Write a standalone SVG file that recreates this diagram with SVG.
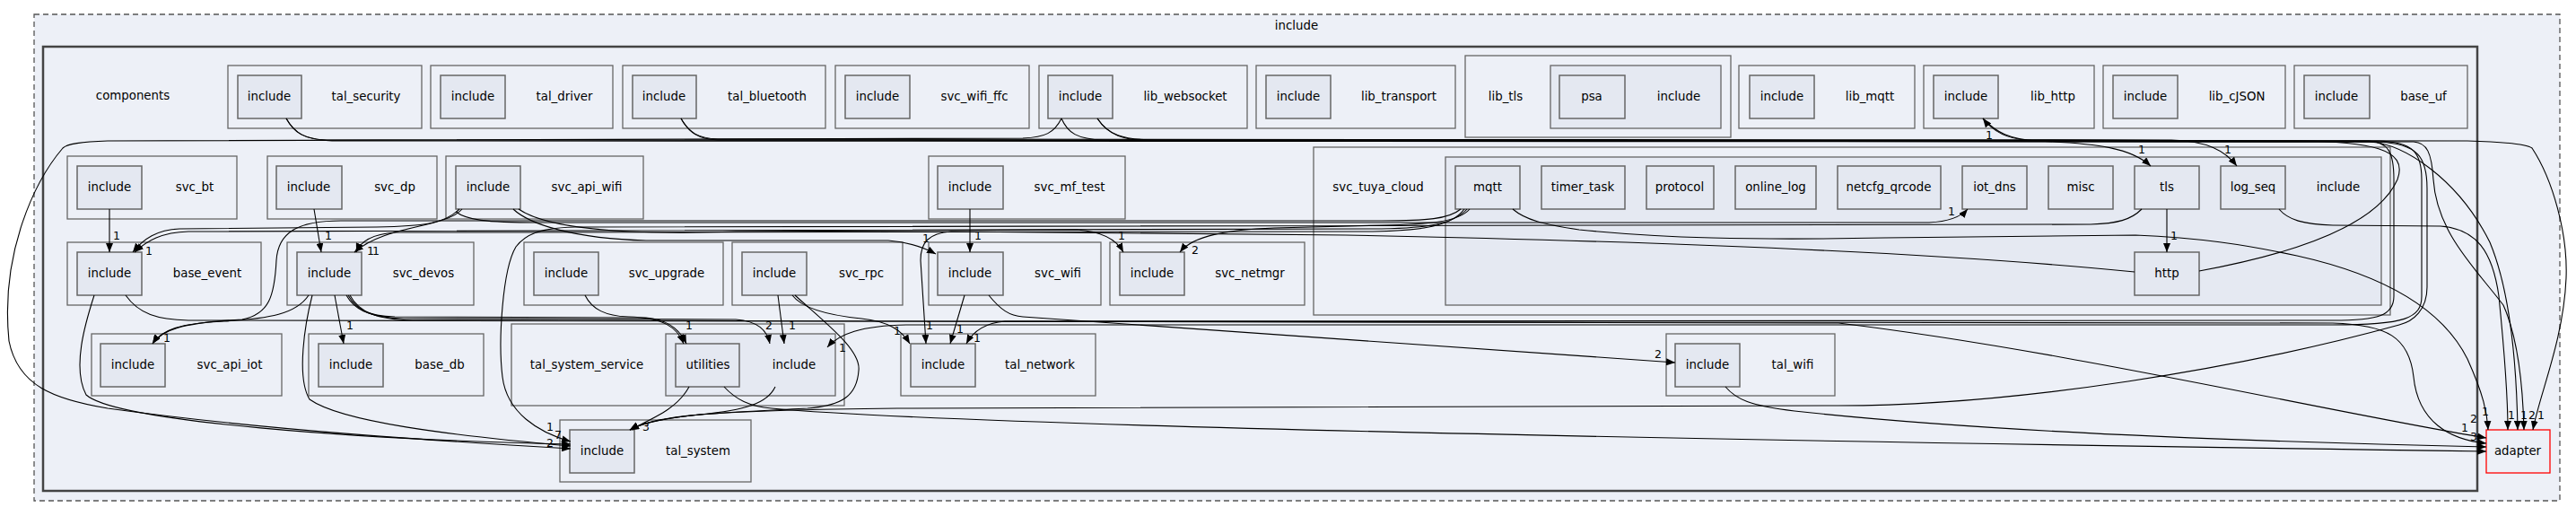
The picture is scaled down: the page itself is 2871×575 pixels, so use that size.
<svg xmlns="http://www.w3.org/2000/svg" width="2871" height="575" viewBox="0 0 2871 575">
<defs>
<style>
text{font-family:"DejaVu Sans","Liberation Sans",sans-serif;font-size:13.33px;fill:#000;text-anchor:middle}
.cl{fill:#edf0f7;stroke:#666;stroke-width:1.3}
.cl2{fill:#e5e9f2;stroke:#666;stroke-width:1.3}
.nd{fill:#e4e8f1;stroke:#666;stroke-width:1.5}
.e{fill:none;stroke:#000;stroke-width:1.1;marker-end:url(#ah)}
.el{font-size:12.5px}
</style>
<marker id="ah" markerWidth="10" markerHeight="8" refX="10" refY="4" orient="auto" markerUnits="userSpaceOnUse"><path d="M0,0L10,4L0,8z" fill="#000"/></marker>
</defs>
<rect width="2871" height="575" fill="#fff"/>
<g id="cluster-include">
<rect x="38" y="16" width="2815" height="542" fill="#edf0f7" stroke="#555" stroke-width="1.3" stroke-dasharray="6,4"/>
<text x="1445" y="33">include</text>
</g>
<g id="cluster-components">
<rect x="48" y="52" width="2713" height="495" fill="#edf0f7" stroke="#444" stroke-width="2.5"/>
<text x="148" y="111">components</text>
</g>
<g id="tal_security"><rect class="cl" x="254" y="73" width="216" height="70"/><rect class="nd" x="265" y="84" width="71" height="48"/><text x="300" y="112">include</text><text x="408" y="112">tal_security</text></g>
<g id="tal_driver"><rect class="cl" x="480" y="73" width="203" height="70"/><rect class="nd" x="491" y="84" width="72" height="48"/><text x="527" y="112">include</text><text x="629" y="112">tal_driver</text></g>
<g id="tal_bluetooth"><rect class="cl" x="694" y="73" width="226" height="70"/><rect class="nd" x="705" y="84" width="71" height="48"/><text x="740" y="112">include</text><text x="855" y="112">tal_bluetooth</text></g>
<g id="svc_wifi_ffc"><rect class="cl" x="931" y="73" width="216" height="70"/><rect class="nd" x="942" y="84" width="72" height="48"/><text x="978" y="112">include</text><text x="1086" y="112">svc_wifi_ffc</text></g>
<g id="lib_websocket"><rect class="cl" x="1158" y="73" width="232" height="70"/><rect class="nd" x="1168" y="84" width="72" height="48"/><text x="1204" y="112">include</text><text x="1321" y="112">lib_websocket</text></g>
<g id="lib_transport"><rect class="cl" x="1400" y="73" width="222" height="70"/><rect class="nd" x="1411" y="84" width="72" height="48"/><text x="1447" y="112">include</text><text x="1559" y="112">lib_transport</text></g>
<g id="lib_tls"><rect class="cl" x="1633" y="62" width="296" height="91"/><text x="1678" y="112">lib_tls</text><rect class="cl2" x="1728" y="73" width="190" height="70"/><rect class="nd" x="1738" y="84" width="73" height="48"/><text x="1774" y="112">psa</text><text x="1871" y="112">include</text></g>
<g id="lib_mqtt"><rect class="cl" x="1938" y="73" width="196" height="70"/><rect class="nd" x="1950" y="84" width="72" height="48"/><text x="1986" y="112">include</text><text x="2084" y="112">lib_mqtt</text></g>
<g id="lib_http"><rect class="cl" x="2144" y="73" width="190" height="70"/><rect class="nd" x="2155" y="84" width="72" height="48"/><text x="2191" y="112">include</text><text x="2288" y="112">lib_http</text></g>
<g id="lib_cJSON"><rect class="cl" x="2344" y="73" width="203" height="70"/><rect class="nd" x="2355" y="84" width="72" height="48"/><text x="2391" y="112">include</text><text x="2493" y="112">lib_cJSON</text></g>
<g id="base_uf"><rect class="cl" x="2557" y="73" width="193" height="70"/><rect class="nd" x="2568" y="84" width="73" height="48"/><text x="2604" y="112">include</text><text x="2701" y="112">base_uf</text></g>
<g id="svc_bt"><rect class="cl" x="75" y="174" width="189" height="70"/><rect class="nd" x="86" y="185" width="72" height="48"/><text x="122" y="213">include</text><text x="217" y="213">svc_bt</text></g>
<g id="svc_dp"><rect class="cl" x="298" y="174" width="189" height="70"/><rect class="nd" x="308" y="185" width="73" height="48"/><text x="344" y="213">include</text><text x="440" y="213">svc_dp</text></g>
<g id="svc_api_wifi"><rect class="cl" x="497" y="174" width="220" height="70"/><rect class="nd" x="508" y="185" width="72" height="48"/><text x="544" y="213">include</text><text x="654" y="213">svc_api_wifi</text></g>
<g id="svc_mf_test"><rect class="cl" x="1035" y="174" width="219" height="70"/><rect class="nd" x="1045" y="185" width="73" height="48"/><text x="1081" y="213">include</text><text x="1192" y="213">svc_mf_test</text></g>
<g id="svc_tuya_cloud"><rect class="cl" x="1464" y="164" width="1200" height="187"/><text x="1536" y="213">svc_tuya_cloud</text>
<rect class="cl2" x="1611" y="175" width="1043" height="165"/><text x="2606" y="213">include</text>
<rect class="nd" x="1622" y="185" width="72" height="48"/><text x="1658" y="213">mqtt</text>
<rect class="nd" x="1718" y="185" width="93" height="48"/><text x="1764" y="213">timer_task</text>
<rect class="nd" x="1835" y="185" width="75" height="48"/><text x="1872" y="213">protocol</text>
<rect class="nd" x="1934" y="185" width="90" height="48"/><text x="1979" y="213">online_log</text>
<rect class="nd" x="2048" y="185" width="115" height="48"/><text x="2105" y="213">netcfg_qrcode</text>
<rect class="nd" x="2187" y="185" width="72" height="48"/><text x="2223" y="213">iot_dns</text>
<rect class="nd" x="2283" y="185" width="72" height="48"/><text x="2319" y="213">misc</text>
<rect class="nd" x="2379" y="185" width="72" height="48"/><text x="2415" y="213">tls</text>
<rect class="nd" x="2475" y="185" width="72" height="48"/><text x="2511" y="213">log_seq</text>
<rect class="nd" x="2379" y="281" width="72" height="48"/><text x="2415" y="309">http</text></g>
<g id="base_event"><rect class="cl" x="75" y="270" width="216" height="70"/><rect class="nd" x="86" y="281" width="72" height="48"/><text x="122" y="309">include</text><text x="231" y="309">base_event</text></g>
<g id="svc_devos"><rect class="cl" x="320" y="270" width="208" height="70"/><rect class="nd" x="331" y="281" width="72" height="48"/><text x="367" y="309">include</text><text x="472" y="309">svc_devos</text></g>
<g id="svc_upgrade"><rect class="cl" x="584" y="270" width="222" height="70"/><rect class="nd" x="595" y="281" width="72" height="48"/><text x="631" y="309">include</text><text x="743" y="309">svc_upgrade</text></g>
<g id="svc_rpc"><rect class="cl" x="816" y="270" width="190" height="70"/><rect class="nd" x="827" y="281" width="72" height="48"/><text x="863" y="309">include</text><text x="960" y="309">svc_rpc</text></g>
<g id="svc_wifi"><rect class="cl" x="1035" y="270" width="192" height="70"/><rect class="nd" x="1045" y="281" width="73" height="48"/><text x="1081" y="309">include</text><text x="1179" y="309">svc_wifi</text></g>
<g id="svc_netmgr"><rect class="cl" x="1237" y="270" width="217" height="70"/><rect class="nd" x="1248" y="281" width="72" height="48"/><text x="1284" y="309">include</text><text x="1393" y="309">svc_netmgr</text></g>
<g id="svc_api_iot"><rect class="cl" x="102" y="372" width="212" height="69"/><rect class="nd" x="112" y="383" width="72" height="48"/><text x="148" y="411">include</text><text x="256" y="411">svc_api_iot</text></g>
<g id="base_db"><rect class="cl" x="344" y="372" width="195" height="69"/><rect class="nd" x="355" y="383" width="72" height="48"/><text x="391" y="411">include</text><text x="490" y="411">base_db</text></g>
<g id="tal_system_service"><rect class="cl" x="570" y="361" width="371" height="91"/><text x="654" y="411">tal_system_service</text><rect class="cl2" x="742" y="372" width="189" height="69"/><rect class="nd" x="753" y="383" width="71" height="48"/><text x="789" y="411">utilities</text><text x="885" y="411">include</text></g>
<g id="tal_network"><rect class="cl" x="1004" y="372" width="217" height="69"/><rect class="nd" x="1015" y="383" width="72" height="48"/><text x="1051" y="411">include</text><text x="1159" y="411">tal_network</text></g>
<g id="tal_wifi"><rect class="cl" x="1857" y="372" width="188" height="69"/><rect class="nd" x="1867" y="383" width="72" height="48"/><text x="1903" y="411">include</text><text x="1998" y="411">tal_wifi</text></g>
<g id="tal_system"><rect class="cl" x="624" y="468" width="213" height="69"/><rect class="nd" x="635" y="479" width="72" height="48"/><text x="671" y="507">include</text><text x="778" y="507">tal_system</text></g>
<g id="adapter"><rect x="2771" y="479" width="71" height="48" fill="#edf0f7" stroke="#f00" stroke-width="1.3"/><text x="2806" y="507">adapter</text></g>
<g id="connectors">
<path class="e" d="M122,233L122,281"/><text class="el" x="130" y="267">1</text>
<path class="e" d="M350,233L358,281"/><text class="el" x="366" y="267">1</text>
<path class="e" d="M515,233C495,255 430,250 395,281"/><text class="el" x="413" y="284">1</text>
<path class="e" d="M512,233C495,250 470,252 420,253L200,255C175,256 160,266 148,281"/><text class="el" x="166" y="284">1</text>
<path class="e" d="M1635,233C1620,250 1590,254 1540,255L210,258C180,259 164,268 150,281"/>
<path class="e" d="M1632,233C1618,252 1585,257 1530,258L440,259C415,261 402,268 397,281"/><text class="el" x="419" y="284">1</text>
<path class="e" d="M1638,233C1625,248 1590,250 1540,251L1420,254C1370,256 1330,262 1315,281"/><text class="el" x="1332" y="283">2</text>
<path class="e" d="M578,233C610,255 700,262 820,258L1200,256C1230,258 1245,268 1252,281"/><text class="el" x="1250" y="267">1</text>
<path class="e" d="M572,233C590,250 640,266 720,268L990,268C1015,270 1030,276 1043,283"/><text class="el" x="1032" y="270">1</text>
<path class="e" d="M1081,233L1081,281"/><text class="el" x="1090" y="267">1</text>
<path class="e" d="M508,236C520,245 540,248 600,248L2150,248C2170,247 2185,242 2193,233"/><text class="el" x="2175" y="240">1</text>
<path class="e" d="M2387,233C2375,245 2360,249 2330,250L640,253C600,254 585,262 575,275C560,300 555,380 560,420C565,460 600,482 636,492"/>
<path class="e" d="M2379,303C2200,285 1900,270 1500,262L1060,258C1035,260 1026,270 1026,290L1032,383"/><text class="el" x="1036" y="367">1</text>
<path class="e" d="M2451,302C2560,282 2650,250 2672,200C2685,165 2640,158 2560,157L2260,156C2235,155 2220,145 2210,132"/><text class="el" x="2217" y="155">1</text>
<path class="e" d="M2210,132C2225,148 2240,155 2270,157C2340,160 2375,165 2397,185"/><text class="el" x="2387" y="171">1</text>
<path class="e" d="M2415,233L2415,281"/><text class="el" x="2423" y="267">1</text>
<path class="e" d="M759,132C768,148 778,154 800,155L2420,156C2460,157 2480,168 2493,185"/><text class="el" x="2483" y="171">1</text>
<path class="e" d="M2540,233C2550,245 2567,250 2600,251L2720,252C2760,255 2778,280 2785,330C2792,400 2795,450 2795,479"/><text class="el" x="2799" y="467">1</text>
<path class="e" d="M1686,233C1700,245 1720,250 1760,256C1850,265 1950,268 2100,265L2380,262C2450,265 2500,272 2560,285C2650,305 2720,340 2750,400C2768,440 2772,460 2773,479"/><text class="el" x="2770" y="463">1</text>
<path class="e" d="M319,132C328,148 338,155 365,156L2640,157C2662,158 2668,170 2668,200L2668,330C2668,352 2650,357 2600,357L1120,358C1097,360 1084,370 1077,383"/><text class="el" x="1089" y="381">1</text>
<path class="e" d="M759,132C768,148 778,155 800,156L2650,157C2690,158 2699,170 2699,200L2699,330C2699,355 2680,362 2600,362L1010,362C960,363 935,372 922,387"/><text class="el" x="939" y="392">1</text>
<path class="e" d="M1183,132C1175,148 1165,153 1140,154L120,157C90,158 75,160 70,165C40,200 0,280 10,380C20,430 60,445 120,455C300,480 500,492 636,500"/>
<path class="e" d="M1223,132C1235,150 1250,156 1290,156L2750,157C2790,158 2815,160 2822,165C2845,200 2862,260 2860,310C2857,380 2830,440 2823,479"/><text class="el" x="2832" y="467">1</text>
<path class="e" d="M1223,132C1235,150 1250,157 1290,157L2640,158C2680,160 2740,200 2775,270C2800,330 2805,420 2806,479"/><text class="el" x="2813" y="467">1</text>
<path class="e" d="M319,132C328,148 340,156 370,157L2690,158C2705,159 2710,170 2712,200C2716,260 2760,300 2790,340C2808,380 2812,440 2813,479"/><text class="el" x="2822" y="467">2</text>
<path class="e" d="M1183,132C1190,148 1200,155 1230,156L2650,158C2695,160 2705,175 2705,210L2705,320C2705,345 2690,358 2674,362C2500,410 2250,452 2049,452L1000,455C900,456 830,458 780,462C740,466 715,472 702,479"/>
<path class="e" d="M348,329C340,360 330,420 345,445C380,470 500,485 636,497"/><text class="el" x="613" y="498">2</text>
<path class="e" d="M105,329C95,360 80,410 96,440C130,470 400,490 636,495"/><text class="el" x="622" y="489">7</text><text class="el" x="613" y="480">1</text>
<path class="e" d="M140,329C155,350 175,356 210,357L2600,360C2660,362 2685,375 2690,420C2695,470 2730,490 2771,494"/><text class="el" x="2747" y="481">1</text>
<path class="e" d="M344,329C330,350 300,355 250,358C200,360 180,368 170,383"/><text class="el" x="186" y="381">1</text>
<path class="e" d="M1628,233C1615,244 1590,246 1540,246L380,246C330,246 310,260 308,290C306,330 300,350 270,356C200,360 180,368 170,383"/>
<path class="e" d="M373,329L383,383"/><text class="el" x="390" y="367">1</text>
<path class="e" d="M386,329C395,345 410,352 440,353L720,354C745,356 758,368 765,383"/><text class="el" x="768" y="367">1</text>
<path class="e" d="M388,329C398,347 415,354 450,355L820,356C845,358 855,368 858,383"/><text class="el" x="857" y="367">2</text>
<path class="e" d="M390,329C400,348 420,356 460,357L2049,360C2300,390 2600,460 2771,488"/><text class="el" x="2757" y="471">2</text>
<path class="e" d="M652,329C660,345 675,352 700,353C740,354 755,365 762,383"/>
<path class="e" d="M867,329L874,383"/><text class="el" x="883" y="367">1</text>
<path class="e" d="M883,329C895,345 930,352 960,355C990,358 1005,368 1014,383"/><text class="el" x="1000" y="373">1</text>
<path class="e" d="M886,329C920,360 960,390 957,413C955,440 940,452 900,455C800,460 730,462 702,479"/><text class="el" x="720" y="480">3</text>
<path class="e" d="M1075,329L1059,383"/><text class="el" x="1070" y="371">1</text>
<path class="e" d="M1102,329C1115,345 1125,352 1140,353L1867,404"/><text class="el" x="1848" y="399">2</text>
<path class="e" d="M1923,431C1935,445 1950,452 2000,458C2200,480 2500,492 2771,498"/>
<path class="e" d="M807,431C820,445 835,453 860,455C1000,468 1500,485 2771,503"/><text class="el" x="2757" y="491">3</text>
<path class="e" d="M768,431C755,455 730,465 702,479"/>
<path class="e" d="M864,431C855,450 830,457 780,462C740,466 715,472 702,479"/>
</g>
</svg>
